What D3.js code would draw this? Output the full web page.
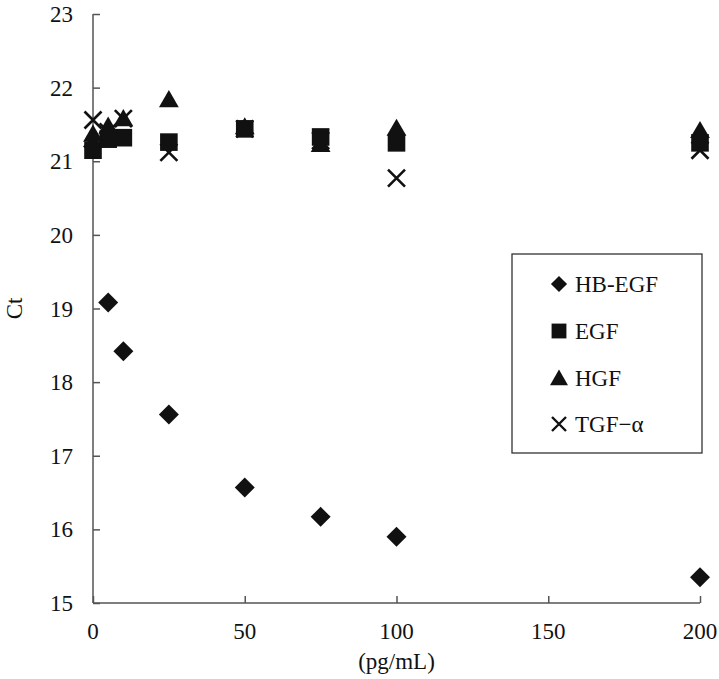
<!DOCTYPE html>
<html>
<head>
<meta charset="utf-8">
<script src="https://cdn.jsdelivr.net/npm/d3@7"></script>
<style>
  html, body { margin: 0; padding: 0; background: #fff; }
  svg { display: block; }
  text { font-family: "Liberation Serif", "Times New Roman", serif; fill: #111; }
</style>
</head>
<body>
<div id="chart"></div>
<script>
// ---- data ----
const concentrations = [0, 5, 10, 25, 50, 75, 100, 200];
const hbegf = [21.2, 19.08, 18.42, 17.56, 16.57, 16.17, 15.9, 15.35];
const egf   = [21.15, 21.3, 21.32, 21.26, 21.44, 21.33, 21.25, 21.25];
const hgf   = [21.37, 21.48, 21.58, 21.84, 21.47, 21.23, 21.45, 21.42];
const tgfa  = [21.56, 21.4, 21.58, 21.12, 21.44, 21.28, 20.77, 21.15];
const seriesNames = ["HB-EGF", "EGF", "HGF", "TGF\u2212\u03b1"];
const xTicks = [0, 50, 100, 150, 200];
const yTicks = [15, 16, 17, 18, 19, 20, 21, 22, 23];
const xTitle = "(pg/mL)";
const yTitle = "Ct";

const W = 719, H = 679;
const svg = d3.select("#chart").append("svg").attr("width", W).attr("height", H);

const x = d3.scaleLinear().domain([0, 200]).range([93, 700]);
const y = d3.scaleLinear().domain([15, 23]).range([603, 14]);

const axisColor = "#555";

// y axis (ticks inside)
const yAxis = svg.append("g").attr("transform", `translate(${x(0)},0)`)
  .call(d3.axisRight(y).tickValues(yTicks).tickSize(7).tickFormat(() => ""));
yAxis.select(".domain").attr("stroke", axisColor).attr("stroke-width", 1.5).attr("d", `M0,${y(23)}V${y(15)}`);
yAxis.selectAll(".tick line").attr("stroke", axisColor).attr("stroke-width", 1.5);
svg.append("g").selectAll("text").data(yTicks).join("text")
  .attr("x", 73).attr("y", d => y(d)).attr("dy", "0.35em")
  .attr("text-anchor", "end").attr("font-size", 23).text(d => d);

// x axis (ticks inside)
const xAxis = svg.append("g").attr("transform", `translate(0,${y(15)})`)
  .call(d3.axisTop(x).tickValues(xTicks).tickSize(7).tickFormat(() => ""));
xAxis.select(".domain").attr("stroke", axisColor).attr("stroke-width", 1.5).attr("d", `M${x(0)},0H${x(200)}`);
xAxis.selectAll(".tick line").attr("stroke", axisColor).attr("stroke-width", 1.5);
svg.append("g").selectAll("text").data(xTicks).join("text")
  .attr("x", d => x(d)).attr("y", 639)
  .attr("text-anchor", "middle").attr("font-size", 23).text(d => d);

// titles
svg.append("text").attr("x", x(100)).attr("y", 669).attr("text-anchor", "middle")
  .attr("font-size", 23).text(xTitle);
svg.append("text").attr("transform", `translate(22,${y(19)}) rotate(-90)`)
  .attr("text-anchor", "middle").attr("font-size", 23).text(yTitle);

// markers
const ink = "#111";
const diamond = d3.symbol().type(d3.symbolSquare).size(200)();
const square = d3.symbol().type(d3.symbolSquare).size(310)();
const triangle = d3.symbol().type(d3.symbolTriangle).size(170)();
const xs = 8.5;
function drawSeries(vals, kind) {
  const g = svg.append("g");
  const pts = concentrations.map((c, i) => ({ c, v: vals[i] }));
  if (kind === "x") {
    g.selectAll("path").data(pts).join("path")
      .attr("transform", d => `translate(${x(d.c)},${y(d.v)})`)
      .attr("d", `M${-xs},${-xs}L${xs},${xs}M${-xs},${xs}L${xs},${-xs}`)
      .attr("stroke", ink).attr("stroke-width", 2.6).attr("fill", "none");
  } else {
    const d0 = kind === "diamond" ? diamond : kind === "square" ? square : triangle;
    const rot = kind === "diamond" ? " rotate(45)" : "";
    const dy = kind === "triangle" ? 2 : 0;
    g.selectAll("path").data(pts).join("path")
      .attr("transform", d => `translate(${x(d.c)},${y(d.v) + dy})${rot}`)
      .attr("d", d0).attr("fill", ink);
  }
}
drawSeries(tgfa, "x");
drawSeries(hbegf, "diamond");
drawSeries(egf, "square");
drawSeries(hgf, "triangle");

// legend
const lg = svg.append("g");
lg.append("rect").attr("x", 512).attr("y", 254).attr("width", 190).attr("height", 199)
  .attr("fill", "#fff").attr("stroke", "#333").attr("stroke-width", 1.3);
const kinds = ["diamond", "square", "triangle", "x"];
const rowY = [284, 331, 378, 424];
kinds.forEach((k, i) => {
  const cx = 559, cy = rowY[i];
  if (k === "x") {
    const s = 7;
    lg.append("path").attr("d", `M${cx - s},${cy - s}L${cx + s},${cy + s}M${cx - s},${cy + s}L${cx + s},${cy - s}`)
      .attr("stroke", ink).attr("stroke-width", 2.4);
  } else if (k === "diamond") {
    lg.append("path").attr("d", d3.symbol().type(d3.symbolSquare).size(130)())
      .attr("transform", `translate(${cx},${cy}) rotate(45)`).attr("fill", ink);
  } else if (k === "square") {
    lg.append("path").attr("d", d3.symbol().type(d3.symbolSquare).size(220)())
      .attr("transform", `translate(${cx},${cy})`).attr("fill", ink);
  } else {
    lg.append("path").attr("d", d3.symbol().type(d3.symbolTriangle).size(140)())
      .attr("transform", `translate(${cx},${cy + 2})`).attr("fill", ink);
  }
  lg.append("text").attr("x", 575).attr("y", cy).attr("dy", "0.35em")
    .attr("font-size", 23).text(seriesNames[i]);
});
</script>
</body>
</html>
